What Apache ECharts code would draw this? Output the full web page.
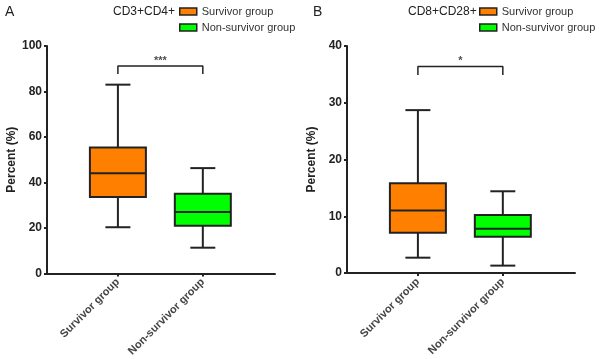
<!DOCTYPE html>
<html>
<head>
<meta charset="utf-8">
<script src="https://cdn.jsdelivr.net/npm/echarts@6/dist/echarts.min.js"></script>
<style>
  html, body { margin: 0; padding: 0; background: #fff; }
  #main { width: 600px; height: 359px; }
</style>
</head>
<body>
<div id="main"></div>
<script>
// groups on the x axis
var groups = ['Survivor group', 'Non-survivor group'];
var panelTitles = ['CD3+CD4+', 'CD8+CD28+'];

// box values: [min, Q1, median, Q3, max]
var cd4Survivor = [20.3, 33.6, 44.0, 55.4, 83.0];
var cd4NonSurvivor = [11.3, 21.0, 27.0, 35.0, 46.3];
var cd28Survivor = [2.7, 7.1, 11.0, 15.8, 28.7];
var cd28NonSurvivor = [1.3, 6.4, 7.8, 10.2, 14.4];

// y axis ticks
var yTicksA = [0, 20, 40, 60, 80, 100];
var yTicksB = [0, 10, 20, 30, 40];

// significance brackets: [leg bottom, bar height], and stars
var cd4Bracket = [87.7, 91.2];
var cd28Bracket = [34.9, 36.4];
var cd4Stars = '***';
var cd28Stars = '*';

var FONT = '"Liberation Sans", Arial, sans-serif';
var INK = '#222';

var myChart = echarts.init(document.getElementById('main'));

function renderBox(params, api) {
    var x = api.value(0);
    var lo = api.coord([x, api.value(1)]);
    var q1 = api.coord([x, api.value(2)]);
    var md = api.coord([x, api.value(3)]);
    var q3 = api.coord([x, api.value(4)]);
    var hi = api.coord([x, api.value(5)]);
    var half = 28, cap = 12.5;
    var cx = md[0];
    var stroke = { stroke: INK, lineWidth: 2 };
    return {
        type: 'group',
        children: [
            { type: 'line', shape: { x1: cx, y1: hi[1], x2: cx, y2: q3[1] }, style: stroke },
            { type: 'line', shape: { x1: cx, y1: q1[1], x2: cx, y2: lo[1] }, style: stroke },
            { type: 'line', shape: { x1: cx - cap, y1: hi[1], x2: cx + cap, y2: hi[1] }, style: stroke },
            { type: 'line', shape: { x1: cx - cap, y1: lo[1], x2: cx + cap, y2: lo[1] }, style: stroke },
            { type: 'rect', shape: { x: cx - half, y: q3[1], width: half * 2, height: q1[1] - q3[1] },
              style: { fill: api.visual('color'), stroke: INK, lineWidth: 2 } },
            { type: 'line', shape: { x1: cx - half, y1: md[1], x2: cx + half, y2: md[1] }, style: stroke }
        ]
    };
}

function boxSeries(name, idx, values, color) {
    return {
        name: name,
        type: 'custom',
        xAxisIndex: idx,
        yAxisIndex: idx,
        renderItem: renderBox,
        itemStyle: { color: color },
        encode: { x: 0, y: [1, 2, 3, 4, 5] },
        data: [[groups.indexOf(name)].concat(values)],
        z: 3
    };
}

function bracketSeries(idx, levels, stars) {
    return [{
        type: 'line',
        xAxisIndex: idx,
        yAxisIndex: idx,
        symbol: 'none',
        silent: true,
        lineStyle: { color: INK, width: 1.5 },
        data: [[0, levels[0]], [0, levels[1]], [1, levels[1]], [1, levels[0]]]
    }, {
        type: 'scatter',
        xAxisIndex: idx,
        yAxisIndex: idx,
        symbolSize: 0,
        silent: true,
        label: {
            show: true, position: 'top', distance: 0,
            formatter: stars, color: INK, fontSize: 11, fontWeight: 'bold', fontFamily: FONT
        },
        data: [[0.5, levels[1]]]
    }];
}

function xAxisOf(idx) {
    return {
        gridIndex: idx,
        type: 'value',
        min: -0.835,
        max: 1.85,
        splitLine: { show: false },
        axisLine: { show: true, onZero: false, lineStyle: { color: INK, width: 2 } },
        axisTick: { show: true, length: 3, customValues: [0, 1], lineStyle: { color: INK, width: 2 } },
        axisLabel: {
            customValues: [0, 1],
            rotate: 45,
            margin: 7,
            color: '#444',
            fontSize: 11,
            fontWeight: 'bold',
            fontFamily: FONT,
            formatter: function (v) { return groups[Math.round(v)]; }
        }
    };
}

function yAxisOf(idx, ticks) {
    return {
        gridIndex: idx,
        type: 'value',
        min: ticks[0],
        max: ticks[ticks.length - 1],
        interval: ticks[1] - ticks[0],
        name: 'Percent (%)',
        nameLocation: 'middle',
        nameGap: 29,
        nameTextStyle: { color: INK, fontSize: 12, fontWeight: 'bold', fontFamily: FONT },
        splitLine: { show: false },
        axisLine: { show: true, onZero: false, lineStyle: { color: INK, width: 2 } },
        axisTick: { show: true, length: 3, lineStyle: { color: INK, width: 2 } },
        axisLabel: { color: INK, fontSize: 12, fontWeight: 'bold', fontFamily: FONT, margin: 5 }
    };
}

function legendOf(left) {
    return {
        left: left,
        top: 6,
        padding: 0,
        orient: 'vertical',
        itemWidth: 17,
        itemHeight: 7,
        itemGap: 5,
        icon: 'rect',
        data: groups,
        itemStyle: { borderColor: INK, borderWidth: 1.5 },
        textStyle: { color: '#333', fontSize: 11, fontFamily: FONT },
        selectedMode: false
    };
}

function titleOf(text, left, top, size) {
    return {
        text: text, left: left, top: top, padding: 0,
        textStyle: { fontSize: size, fontWeight: 'normal', color: INK, fontFamily: FONT }
    };
}

var option = {
    animation: false,
    backgroundColor: '#fff',
    title: [
        titleOf('A', 5, 5, 14),
        titleOf(panelTitles[0], 113, 6, 12),
        titleOf('B', 313, 5, 14),
        titleOf(panelTitles[1], 408, 6, 12)
    ],
    legend: [legendOf(179), legendOf(479)],
    grid: [
        { left: 47, top: 46, width: 228, height: 228 },
        { left: 347, top: 46, width: 228, height: 227 }
    ],
    xAxis: [xAxisOf(0), xAxisOf(1)],
    yAxis: [yAxisOf(0, yTicksA), yAxisOf(1, yTicksB)],
    series: [
        boxSeries('Survivor group', 0, cd4Survivor, '#ff8000'),
        boxSeries('Non-survivor group', 0, cd4NonSurvivor, '#00ff00'),
        boxSeries('Survivor group', 1, cd28Survivor, '#ff8000'),
        boxSeries('Non-survivor group', 1, cd28NonSurvivor, '#00ff00')
    ].concat(bracketSeries(0, cd4Bracket, cd4Stars), bracketSeries(1, cd28Bracket, cd28Stars))
};

myChart.setOption(option);
</script>
</body>
</html>
